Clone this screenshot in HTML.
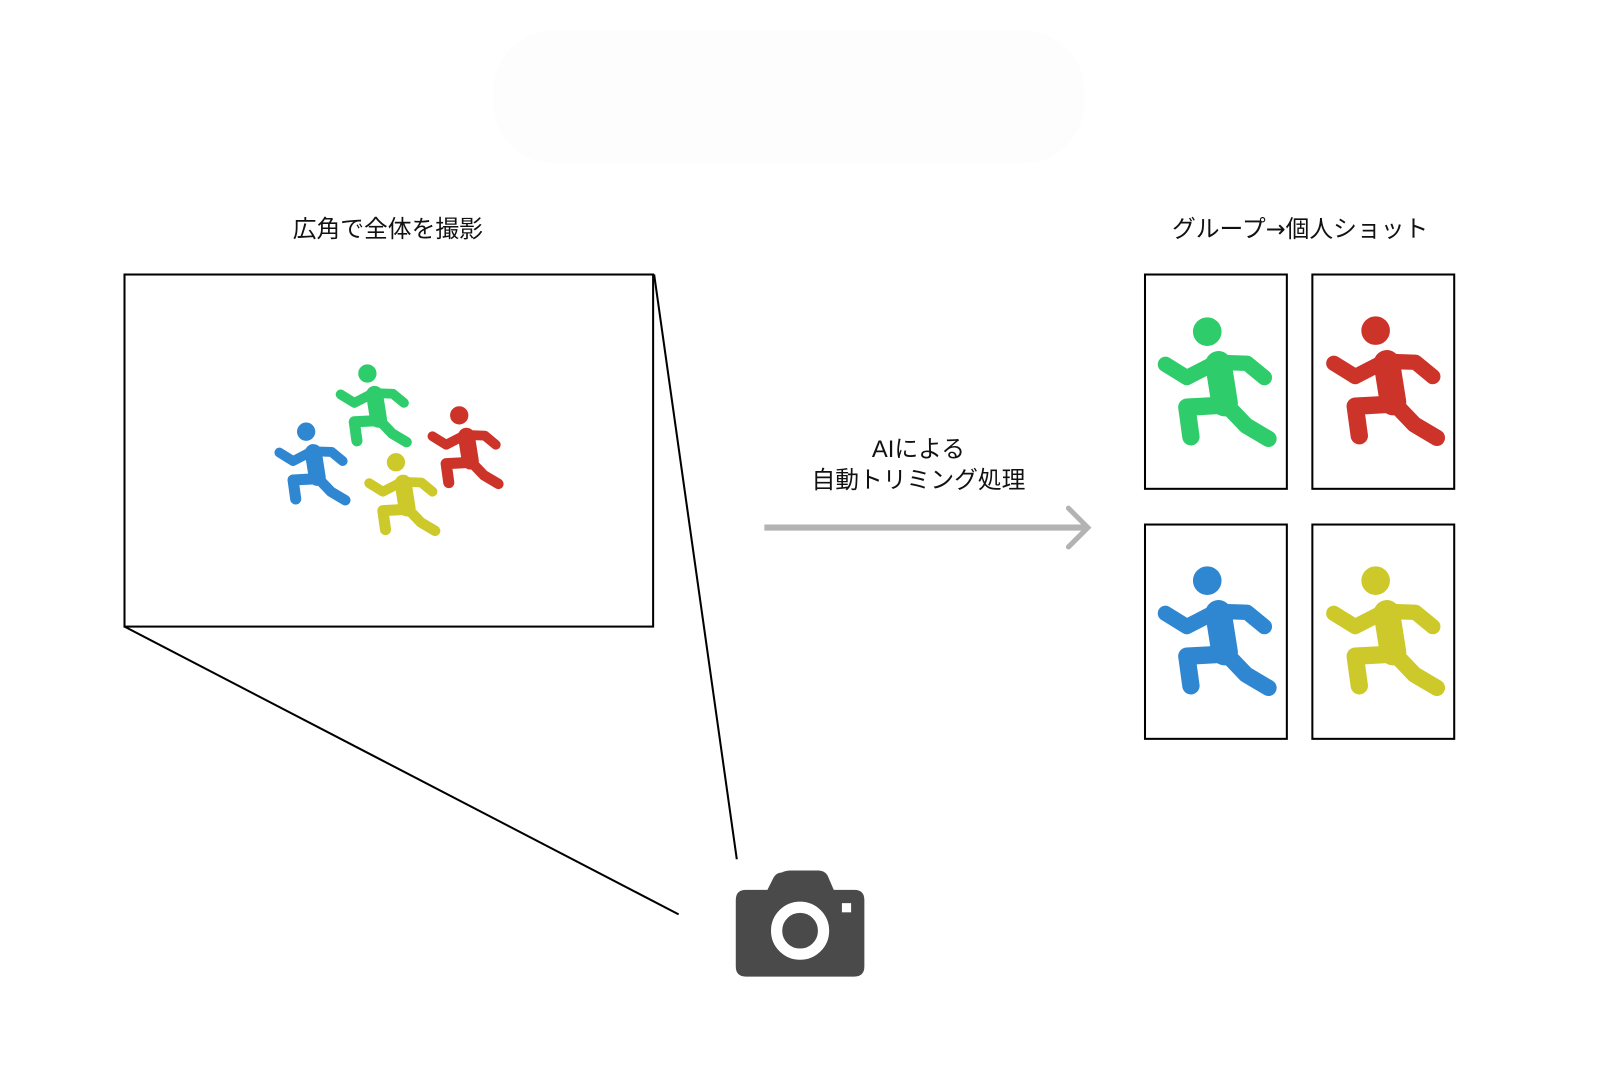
<!DOCTYPE html>
<html><head><meta charset="utf-8"><style>
html,body{margin:0;padding:0;background:#fff;}
body{width:1600px;height:1052px;overflow:hidden;position:relative;font-family:"Liberation Sans","Noto Sans CJK JP",sans-serif;}
#w{position:absolute;left:0;top:0;width:1600px;height:1052px;transform:scale(1.0205);transform-origin:0 0;}
.t{position:absolute;font-size:23.3px;color:#111;text-align:center;white-space:nowrap;}
</style></head><body><div id="w">
<svg width="1600" height="1052" style="position:absolute;left:0;top:0">
<defs>
<g id="r">
<circle cx="0" cy="0" r="13.5"/>
<g fill="none" stroke-linecap="round" stroke-linejoin="round">
<polyline points="-41,32 -20,45 9,30 39,31 56,45" stroke-width="15"/>
<line x1="11" y1="32" x2="17" y2="70" stroke-width="26"/>
<polyline points="17,72 -20,74 -16,103" stroke-width="17"/>
<polyline points="17,70 38,92 60,105" stroke-width="16"/>
</g>
</g>
</defs>
<rect x="483" y="30" width="580" height="130" rx="60" fill="#fdfdfd"/>
<rect x="122" y="269" width="518" height="345" fill="#fff" stroke="#000" stroke-width="2"/>
<line x1="641" y1="269" x2="722" y2="842" stroke="#000" stroke-width="2"/>
<line x1="122" y1="614" x2="665" y2="896" stroke="#000" stroke-width="2"/>
<g fill="#2ecc6a" stroke="#2ecc6a"><use href="#r" transform="translate(360,366) scale(0.64)"/></g>
<g fill="#2f86d1" stroke="#2f86d1"><use href="#r" transform="translate(300,423) scale(0.64)"/></g>
<g fill="#cc3329" stroke="#cc3329"><use href="#r" transform="translate(450,407) scale(0.64)"/></g>
<g fill="#cdc92a" stroke="#cdc92a"><use href="#r" transform="translate(388,453) scale(0.64)"/></g>
<rect x="1122" y="269" width="139" height="210" fill="#fff" stroke="#000" stroke-width="2"/>
<rect x="1286" y="269" width="139" height="210" fill="#fff" stroke="#000" stroke-width="2"/>
<rect x="1122" y="514" width="139" height="210" fill="#fff" stroke="#000" stroke-width="2"/>
<rect x="1286" y="514" width="139" height="210" fill="#fff" stroke="#000" stroke-width="2"/>
<g fill="#2ecc6a" stroke="#2ecc6a"><use href="#r" transform="translate(1183,325)"/></g>
<g fill="#cc3329" stroke="#cc3329"><use href="#r" transform="translate(1348,324)"/></g>
<g fill="#2f86d1" stroke="#2f86d1"><use href="#r" transform="translate(1183,569)"/></g>
<g fill="#cdc92a" stroke="#cdc92a"><use href="#r" transform="translate(1348,569)"/></g>
<line x1="749" y1="517" x2="1066" y2="517" stroke="#b3b3b3" stroke-width="6"/>
<polyline points="1047,498 1066,517 1047,536" fill="none" stroke="#b3b3b3" stroke-width="5" stroke-linecap="round"/>
<g fill="#4a4a4a">
<path d="M766,855 Q770,853 775,853 L802,853 Q808,853 811,858 L817,872 L837,872 Q847,872 847,882 L847,947 Q847,957 837,957 L731,957 Q721,957 721,947 L721,882 Q721,872 731,872 L752,872 L758,860 Q761,855 766,855 Z"/>
</g>
<circle cx="784" cy="912" r="23" fill="none" stroke="#fff" stroke-width="11"/>
<rect x="825" y="885" width="9" height="9" fill="#fff"/>
</svg>
<div class="t" style="left:230px;top:205px;width:300px;">広角で全体を撮影</div>
<div class="t" style="left:1124px;top:205px;width:300px;">グループ<span style="font-family:'DejaVu Sans',sans-serif;">→</span>個人ショット</div>
<div class="t" style="left:750px;top:425px;width:300px;line-height:30px;">AIによる<br>自動トリミング処理</div>
</div></body></html>
